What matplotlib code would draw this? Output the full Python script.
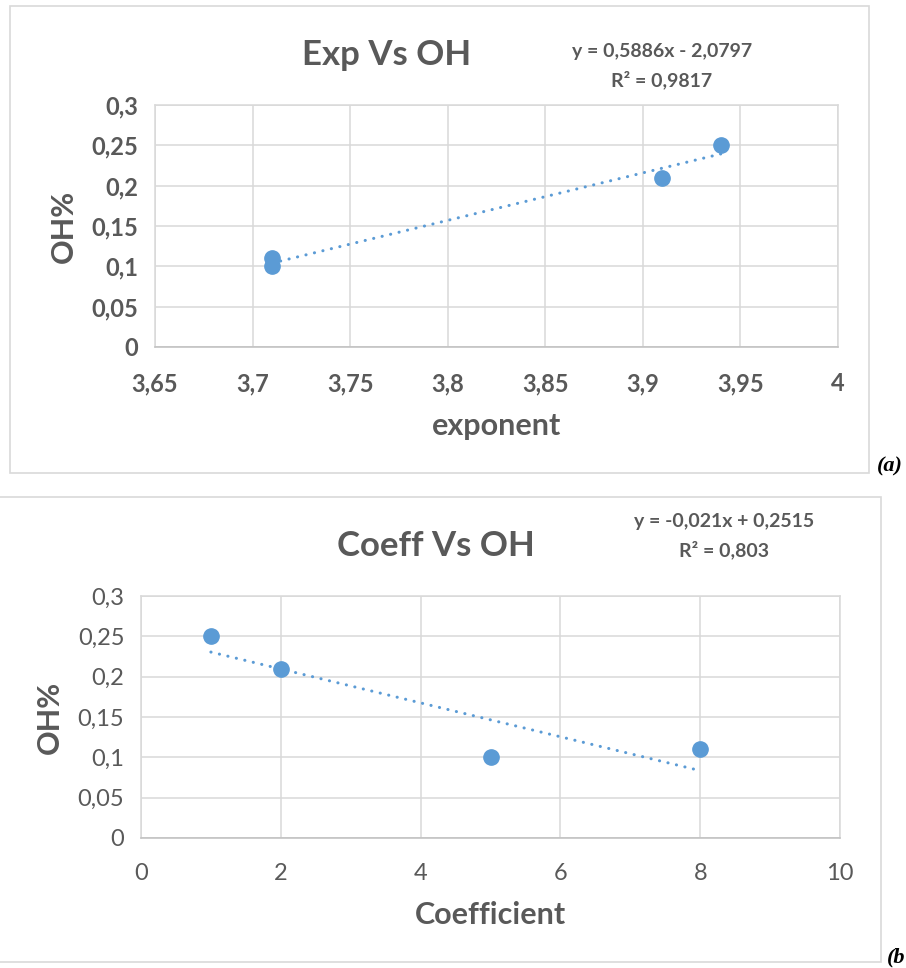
import matplotlib.pyplot as plt
from matplotlib.patches import Rectangle
from matplotlib.ticker import FuncFormatter
import numpy as np

# panel (a): exponent vs OH%
exp_x = [3.71, 3.71, 3.91, 3.94]
exp_y = [0.10, 0.11, 0.21, 0.25]
exp_slope, exp_icpt = 0.5886, -2.0797
exp_eq = ["y = 0,5886x - 2,0797", "R² = 0,9817"]
exp_xticks = [3.65, 3.7, 3.75, 3.8, 3.85, 3.9, 3.95, 4.0]

# panel (b): coefficient vs OH%
coef_x = [1, 2, 5, 8]
coef_y = [0.25, 0.21, 0.10, 0.11]
coef_slope, coef_icpt = -0.021, 0.2515
coef_eq = ["y = -0,021x + 0,2515", "R² = 0,803"]
coef_xticks = [0, 2, 4, 6, 8, 10]

yticks = [0, 0.05, 0.1, 0.15, 0.2, 0.25, 0.3]

W, H = 906, 968
BLUE = "#5B9BD5"
TXT = "#595959"
plt.rcParams["font.family"] = ["Lato", "DejaVu Sans"]


def comma(v, pos=None):
    s = ("%.2f" % v).rstrip("0").rstrip(".")
    return s.replace(".", ",")


def px_axes(fig, x0, y0, x1, y1):
    return fig.add_axes([x0 / W, 1 - y1 / H, (x1 - x0) / W, (y1 - y0) / H])


def draw_panel(ax, xs, ys, slope, icpt, xticks, bold_ticks):
    ax.set_xlim(xticks[0], xticks[-1])
    ax.set_ylim(0, 0.3)
    ax.set_xticks(xticks)
    ax.set_yticks(yticks)
    ax.grid(True, color="#D9D9D9", lw=1.1)
    ax.set_axisbelow(True)
    for s in ax.spines.values():
        s.set_color("#D9D9D9")
        s.set_linewidth(1.1)
    ax.spines["bottom"].set_color("#BFBFBF")
    ax.tick_params(length=0, pad=12, labelsize=17, labelcolor=TXT)
    ax.xaxis.set_major_formatter(FuncFormatter(comma))
    ax.yaxis.set_major_formatter(FuncFormatter(comma))
    ax.tick_params(axis="x", pad=18)
    if bold_ticks:
        for lab in ax.get_xticklabels() + ax.get_yticklabels():
            lab.set_fontweight("bold")
    # linear trendline across the data range
    tx = np.array([min(xs), max(xs)])
    ax.plot(tx, slope * tx + icpt, color=BLUE, lw=2.2,
            linestyle=(0, (0.05, 2.8)), dash_capstyle="round", zorder=2)
    ax.plot(xs, ys, "o", color=BLUE, ms=11, mec=BLUE, zorder=3)


fig = plt.figure(figsize=(W / 100, H / 100), dpi=100)

# panel borders
fig.patches.append(Rectangle((10 / W, 1 - 473 / H), 859 / W, 467 / H,
                             transform=fig.transFigure, fill=False,
                             ec="#D9D9D9", lw=1.2))
fig.patches.append(Rectangle((-5 / W, 1 - 962 / H), 886 / W, 465 / H,
                             transform=fig.transFigure, fill=False,
                             ec="#D9D9D9", lw=1.2))

ax1 = px_axes(fig, 155, 105, 838, 347)
draw_panel(ax1, exp_x, exp_y, exp_slope, exp_icpt, exp_xticks, True)
ax1.set_xlabel("exponent", fontsize=22, fontweight="bold", color=TXT, labelpad=12)
ax1.set_ylabel("OH%", fontsize=22, fontweight="bold", color=TXT, labelpad=10)

ax2 = px_axes(fig, 141, 596, 840, 838)
draw_panel(ax2, coef_x, coef_y, coef_slope, coef_icpt, coef_xticks, False)
ax2.set_xlabel("Coefficient", fontsize=22, fontweight="bold", color=TXT, labelpad=12)
ax2.set_ylabel("OH%", fontsize=22, fontweight="bold", color=TXT, labelpad=10)


def ftext(x, y, s, **kw):
    fig.text(x / W, 1 - y / H, s, **kw)


ftext(387, 55, "Exp Vs OH", fontsize=25, fontweight="bold", color=TXT,
      ha="center", va="center")
ftext(662, 52, exp_eq[0], fontsize=14, fontweight="bold", color=TXT,
      ha="center", va="center")
ftext(662, 80, exp_eq[1], fontsize=14, fontweight="bold", color=TXT,
      ha="center", va="center")

ftext(436, 546, "Coeff Vs OH", fontsize=25, fontweight="bold", color=TXT,
      ha="center", va="center")
ftext(724, 522, coef_eq[0], fontsize=14, fontweight="bold", color=TXT,
      ha="center", va="center")
ftext(724, 550, coef_eq[1], fontsize=14, fontweight="bold", color=TXT,
      ha="center", va="center")

ftext(877, 466, "(a)", fontsize=16, fontweight="bold", style="italic",
      family="Liberation Serif", color="black", ha="left", va="center")
# the reference clips this label at the page edge
ftext(905, 957, "(b", fontsize=16, fontweight="bold", style="italic",
      family="Liberation Serif", color="black", ha="right", va="center")

fig.savefig("out.png", dpi=100)
